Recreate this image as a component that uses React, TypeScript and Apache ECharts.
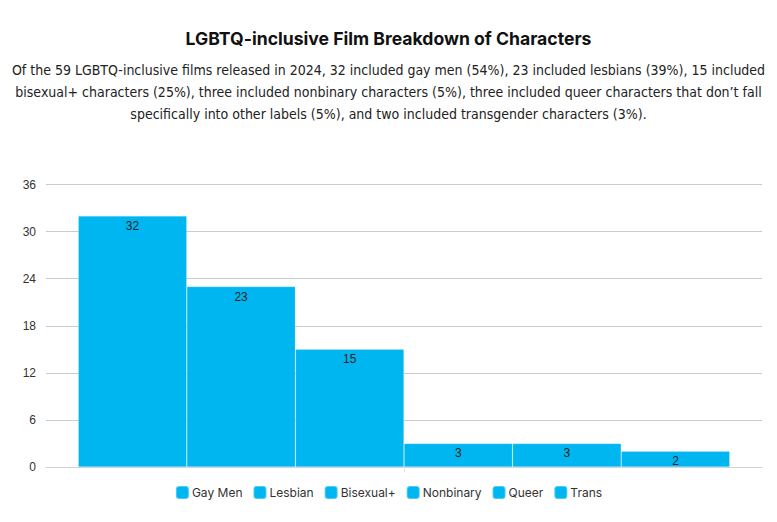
import React, { useEffect, useRef } from "react";
import * as echarts from "echarts";

const categories = ["Gay Men", "Lesbian", "Bisexual+", "Nonbinary", "Queer", "Trans"];
const values = [32, 23, 15, 3, 3, 2];
const yTicks = [0, 6, 12, 18, 24, 30, 36];
const titleText = "LGBTQ-inclusive Film Breakdown of Characters";
const subtitleLines = [
  "Of the 59 LGBTQ-inclusive films released in 2024, 32 included gay men (54%), 23 included lesbians (39%), 15 included",
  "bisexual+ characters (25%), three included nonbinary characters (5%), three included queer characters that don\u2019t fall",
  "specifically into other labels (5%), and two included transgender characters (3%).",
];

const BAR = "#00b6f0";

export default function App() {
  const ref = useRef<HTMLDivElement>(null);
  useEffect(() => {
    document.body.style.margin = "0";
    const chart = echarts.init(ref.current!, null, { renderer: "svg" });
    chart.setOption({
      animation: false,
      backgroundColor: "#ffffff",
      title: {
        text: titleText,
        subtext: subtitleLines.join("\n"),
        left: "center",
        top: 24,
        itemGap: 12,
        textStyle: {
          fontFamily: "Inter, 'Noto Sans', sans-serif",
          fontWeight: 700,
          fontSize: 17.6,
          color: "#111111",
        },
        subtextStyle: {
          fontFamily: "'Liberation Sans Narrow', 'DejaVu Sans Condensed', sans-serif",
          fontSize: 14,
          lineHeight: 22,
          color: "#222222",
          align: "center",
        },
      },
      legend: {
        bottom: 17,
        left: "center",
        itemWidth: 13,
        itemHeight: 13,
        itemGap: 10,
        icon: "roundRect",
        textStyle: {
          fontFamily: "Inter, 'Noto Sans', sans-serif",
          fontSize: 12,
          color: "#333333",
          padding: [0, 0, 0, -2],
        },
        data: categories,
      },
      grid: {
        left: 46,
        right: 15,
        top: 184.5,
        bottom: 55,
        containLabel: false,
      },
      xAxis: {
        type: "category",
        data: [""],
        axisLine: { lineStyle: { color: "#cfd4d8" } },
        axisTick: { show: true, alignWithLabel: true, lineStyle: { color: "#e2e5e8" } },
        axisLabel: { show: false },
      },
      yAxis: {
        type: "value",
        min: yTicks[0],
        max: yTicks[yTicks.length - 1],
        interval: 6,
        axisLine: { show: false },
        axisTick: { show: false },
        axisLabel: {
          fontFamily: "'Liberation Sans', Arial, sans-serif",
          fontSize: 12,
          color: "#333333",
          margin: 10,
        },
        splitLine: { lineStyle: { color: "#c5ccd2", width: 1.2 } },
      },
      series: categories.map((name, i) => ({
        name,
        type: "bar",
        data: [values[i]],
        barGap: "0%",
        barCategoryGap: "9%",
        itemStyle: {
          color: BAR,
          borderColor: "rgba(255,255,255,0.3)",
          borderWidth: 0.6,
        },
        label: {
          show: true,
          position: "insideTop",
          distance: 4,
          fontFamily: "'Liberation Sans', Arial, sans-serif",
          fontSize: 12,
          color: "#222222",
        },
      })),
    });
    return () => chart.dispose();
  }, []);
  return <div ref={ref} style={{ width: 777, height: 522 }} />;
}
